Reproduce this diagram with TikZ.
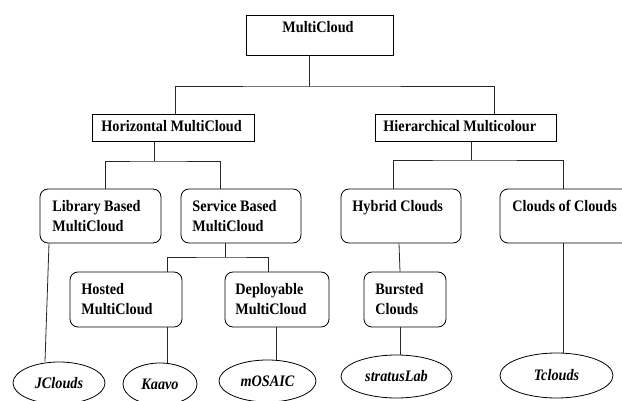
\documentclass[tikz,border=0pt]{standalone}
\usepackage{fontspec}
\setmainfont[FakeStretch=0.89]{Liberation Serif}
\usetikzlibrary{shapes.geometric,fit}
\begin{document}
\begin{tikzpicture}[x=1pt,y=-1pt, line width=0.8pt,
  sqbox/.style={draw, inner sep=0pt},
  rbox/.style={draw, rounded corners=8pt, inner sep=0pt},
  ell/.style={draw, ellipse, inner sep=0pt, font=\fontsize{16}{20}\selectfont\bfseries\itshape},
  lbl/.style={anchor=base west, inner sep=0pt, align=left, font=\fontsize{16}{20}\selectfont\bfseries},
  conn/.style={draw=black!85}]
\useasboundingbox (0,0) rectangle (622,401);
\clip (0,0) rectangle (622,401);
% boxes
\node[sqbox, fit={(246,15)(393,55)}] (mc) {};
\node[sqbox, fit={(92,114)(254,141)}] (hm) {};
\node[sqbox, fit={(375,114)(556,141)}] (hc) {};
\node[rbox, fit={(40,189)(161,243)}] (lib) {};
\node[rbox, fit={(181,189)(301,243)}] (svc) {};
\node[rbox, fit={(341,189)(461,243)}] (hyb) {};
\node[rbox, fit={(500,189)(640,243)}] (coc) {};
\node[rbox, fit={(70,272)(182,327)}] (hos) {};
\node[rbox, fit={(225,272)(329,327)}] (dep) {};
\node[rbox, fit={(364,272)(446,327)}] (bur) {};
% texts (base anchor = baseline of last line)
\node[anchor=base, inner sep=0pt, font=\fontsize{16}{20}\selectfont\bfseries] (tmc) at (318,33) {MultiCloud};
\node[lbl] (thm) at (101,132) {Horizontal MultiCloud};
\node[lbl] (thc) at (383,132) {Hierarchical Multicolour};
\node[lbl] (tlib) at (52,232) {Library Based\\MultiCloud};
\node[lbl] (tsvc) at (192,232) {Service Based\\MultiCloud};
\node[lbl] (thyb) at (352,212) {Hybrid Clouds};
\node[lbl] (tcoc) at (512,212) {Clouds of Clouds};
\node[lbl] (thos) at (81,314) {Hosted\\MultiCloud};
\node[lbl] (tdep) at (235,314) {Deployable\\MultiCloud};
\node[lbl] (tbur) at (375,314) {Bursted\\Clouds};
% ellipses
\node[ell, minimum width=92pt, minimum height=42pt] (jc) at (59,383) {JClouds};
\node[ell, minimum width=74pt, minimum height=42pt] (ka) at (160,384) {Kaavo};
\node[ell, minimum width=97pt, minimum height=42pt] (mo) at (267.5,381) {mOSAIC};
\node[ell, minimum width=111pt, minimum height=43pt] (st) at (396.5,376.5) {stratusLab};
\node[ell, minimum width=113pt, minimum height=45pt] (tc) at (556.5,375.5) {Tclouds};
% junction coordinates
\coordinate (j0) at (309,86);
\coordinate (x175) at (175,0);
\coordinate (x494) at (494,0);
\coordinate (j1) at (154,161);
\coordinate (x105) at (105,0);
\coordinate (x220) at (220,0);
\coordinate (j2) at (471,160);
\coordinate (x393) at (393,0);
\coordinate (x563) at (563,0);
\coordinate (j3) at (225,257);
\coordinate (x167) at (167,0);
\coordinate (x268) at (268,0);
\coordinate (x399) at (399,0);
\coordinate (x400) at (400,0);
\coordinate (x49) at (49,0);
\coordinate (x45) at (45,0);
\coordinate (x276) at (276,0);
% connectors
\draw[conn] (mc.south -| j0) -- (j0);
\draw[conn] (hm.north -| x175) |- (j0) -| (hc.north -| x494);
\draw[conn] (hm.south -| j1) -- (j1);
\draw[conn] (lib.north -| x105) |- (j1) -| (svc.north -| x220);
\draw[conn] (hc.south -| j2) -- (j2);
\draw[conn] (hyb.north -| x393) |- (j2) -| (coc.north -| x563);
\draw[conn] (svc.south -| j3) -- (j3);
\draw[conn] (hos.north -| x167) |- (j3) -| (dep.north -| x268);
\draw[conn] (hyb.south -| x399) -- (bur.north -| x400);
\draw[conn] (lib.south -| x49) -- (jc.north -| x45);
\draw[conn] (hos.south -| x167) -- (ka.north -| x167);
\draw[conn] (dep.south -| x276) -- (mo.north -| x276);
\draw[conn] (bur.south -| x400) -- (st.north -| x400);
\draw[conn] (coc.south -| x563) -- (tc.north -| x563);
\end{tikzpicture}
\end{document}
